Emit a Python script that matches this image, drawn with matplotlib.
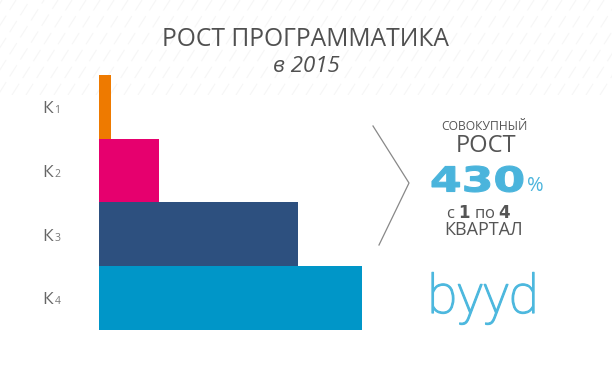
import matplotlib.pyplot as plt
import matplotlib.patheffects as pe
from matplotlib.lines import Line2D
from matplotlib.patches import PathPatch
from matplotlib.path import Path
from matplotlib.textpath import TextPath
from matplotlib.font_manager import FontProperties
from matplotlib.transforms import blended_transform_factory

quarters = ["1", "2", "3", "4"]
growth = [12, 60, 199, 263]
bar_colors = ["#EE7A00", "#E6006E", "#2D507F", "#0096C8"]

title = "РОСТ ПРОГРАММАТИКА"
subtitle = "в 2015"
total_growth = "430"

W, H = 612, 367
fig = plt.figure(figsize=(W / 100, H / 100), dpi=100)
fig.patch.set_facecolor("white")

def fx(px):
    return px / W

def fy(py):
    return 1 - py / H

# faint diagonal stripes behind the title
bg = fig.add_axes([0, fy(95), 1, 95 / H])
bg.set_xlim(0, W)
bg.set_ylim(95, 0)
bg.axis("off")
for x0 in range(-100, W + 100, 14):
    bg.plot([x0, x0 + 60], [95, 0], color="#f6f6f6", lw=0.8,
            ls=(0, (12, 6)), zorder=0)

# bars: one row per quarter, touching each other
ax = fig.add_axes([fx(99), fy(330), fx(400 - 99), (330 - 75) / H])
ypos = range(len(quarters))
ax.barh(ypos, growth, height=1.0, color=bar_colors, align="center")
ax.set_xlim(0, 301)
ax.set_ylim(len(quarters) - 0.5, -0.5)
ax.axis("off")

tr = blended_transform_factory(fig.transFigure, ax.transData)
for i, q in enumerate(quarters):
    ax.text(fx(42), i + 0.1, "К", transform=tr, fontsize=12.5, color="#666666",
            family="Open Sans", va="baseline", ha="left")
    ax.text(fx(54.5), i + 0.1, q, transform=tr, fontsize=7.5, color="#777777",
            family="Open Sans", va="baseline", ha="left")

# title
fig.text(fx(306), fy(40), title, fontsize=17.7, color="#505050",
         family="Open Sans", ha="center", va="center")
fig.text(fx(306), fy(67), subtitle, fontsize=16, color="#505050",
         family="Open Sans", style="italic", ha="center", va="center")

# chevron
fig.add_artist(Line2D([fx(373), fx(409), fx(379)], [fy(126), fy(183), fy(245)],
                      color="#888888", lw=0.9))

# summary block
fig.text(fx(484), fy(127), "СОВОКУПНЫЙ", fontsize=8.7, color="#555555",
         family="Open Sans", ha="center", va="center")
fig.text(fx(486), fy(146), "РОСТ", fontsize=17, color="#555555",
         family="Open Sans", ha="center", va="center")

# big wide number: glyph outlines stretched into the box it fills in the reference
tp = TextPath((0, 0), total_growth, size=1,
              prop=FontProperties(family="DejaVu Sans", weight="bold"))
ext = tp.get_extents()
box_l, box_r, box_t, box_b = 432, 523, 166, 192
sx = (box_r - box_l) / ext.width
sy = (box_b - box_t) / ext.height
verts = [(fx(box_l + (x - ext.x0) * sx), fy(box_b - (y - ext.y0) * sy))
         for x, y in tp.vertices]
fig.add_artist(PathPatch(Path(verts, tp.codes), transform=fig.transFigure,
                         facecolor="#4AB4DC", edgecolor="#4AB4DC", lw=0.8))
fig.text(fx(527), fy(191), "%", fontsize=14.5, color="#4AB4DC",
         family="Open Sans", ha="left", va="baseline")
fig.text(fx(479), fy(213), "с $\\mathbf{1}$ по $\\mathbf{4}$", fontsize=12,
         color="#555555", family="Open Sans", ha="center", va="center")
fig.text(fx(484), fy(230), "КВАРТАЛ", fontsize=13, color="#555555",
         family="Open Sans", ha="center", va="center")

# logo
fig.text(fx(483), fy(313), "byyd", fontsize=39, color="#4DB8DE",
         family="Roboto", weight="light", ha="center", va="baseline",
         path_effects=[pe.withStroke(linewidth=0.9, foreground="#4DB8DE")])

fig.savefig("out.png", dpi=100)
